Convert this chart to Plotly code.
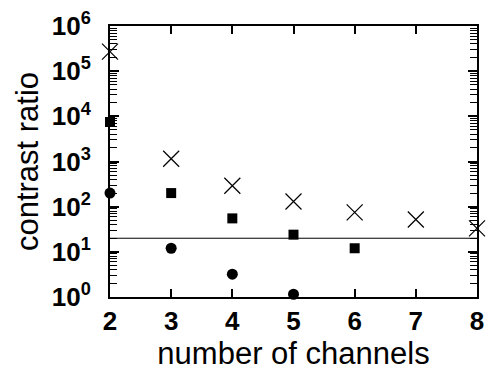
import plotly.graph_objects as go

channels_x = [2, 3, 4, 5, 6, 7, 8]
cross_vals = [270000, 1150, 290, 130, 75, 52, 33]
square_x = [2, 3, 4, 5, 6]
square_vals = [7500, 200, 55, 24, 12]
circle_x = [2, 3, 4, 5]
circle_vals = [200, 12, 3.2, 1.15]
threshold = 20

ytick_vals = [1, 10, 100, 1000, 10000, 100000, 1000000]
ytick_text = ["10<sup>%d</sup>" % i for i in range(7)]
yminor_vals = [m * 10 ** e for e in range(6) for m in range(2, 10)]

fig = go.Figure()
fig.add_trace(go.Scatter(x=channels_x, y=cross_vals, mode="markers",
                         marker=dict(symbol="x-thin-open", size=16, color="black",
                                     line=dict(width=1.2, color="black")),
                         cliponaxis=False))
fig.add_trace(go.Scatter(x=square_x, y=square_vals, mode="markers",
                         marker=dict(symbol="square", size=10, color="black"),
                         cliponaxis=False))
fig.add_trace(go.Scatter(x=circle_x, y=circle_vals, mode="markers",
                         marker=dict(symbol="circle", size=11, color="black"),
                         cliponaxis=False))
fig.add_shape(type="line", xref="paper", x0=0, x1=1, yref="y", y0=threshold, y1=threshold,
              line=dict(color="black", width=1))

fig.update_layout(
    width=492, height=374,
    margin=dict(l=110, r=8, t=23, b=77),
    paper_bgcolor="white", plot_bgcolor="white",
    showlegend=False,
    font=dict(family="Liberation Sans, Arial, sans-serif", color="black"),
    xaxis=dict(range=[2, 8], tickmode="array", tickvals=channels_x, ticks="inside", ticklen=8,
               tickwidth=1.5, tickcolor="#000000",
               showline=True, linecolor="#000000", linewidth=2, mirror="ticks",
               showgrid=False, zeroline=False,
               tickfont=dict(size=26, family="Liberation Sans, Arial", weight="bold"),
               title=dict(text="number of channels", font=dict(size=31), standoff=6)),
    yaxis=dict(type="log", range=[0, 6], tickmode="array", tickvals=ytick_vals, ticktext=ytick_text,
               ticks="inside", ticklen=9, tickwidth=1.5, tickcolor="#000000",
               minor=dict(tickmode="array", tickvals=yminor_vals, ticks="inside", ticklen=7,
                          tickcolor="#000000", tickwidth=1.2, showgrid=False),
               showline=True, linecolor="#000000", linewidth=2, mirror="ticks",
               showgrid=False, zeroline=False, ticklabelstandoff=12,
               tickfont=dict(size=26, family="Liberation Sans, Arial", weight="bold"),
               title=dict(text="contrast ratio", font=dict(size=31), standoff=4)),
)

fig.write_html("out.html", config={"displayModeBar": False},
               post_script="document.body.style.margin='0';document.body.style.overflow='hidden';")
